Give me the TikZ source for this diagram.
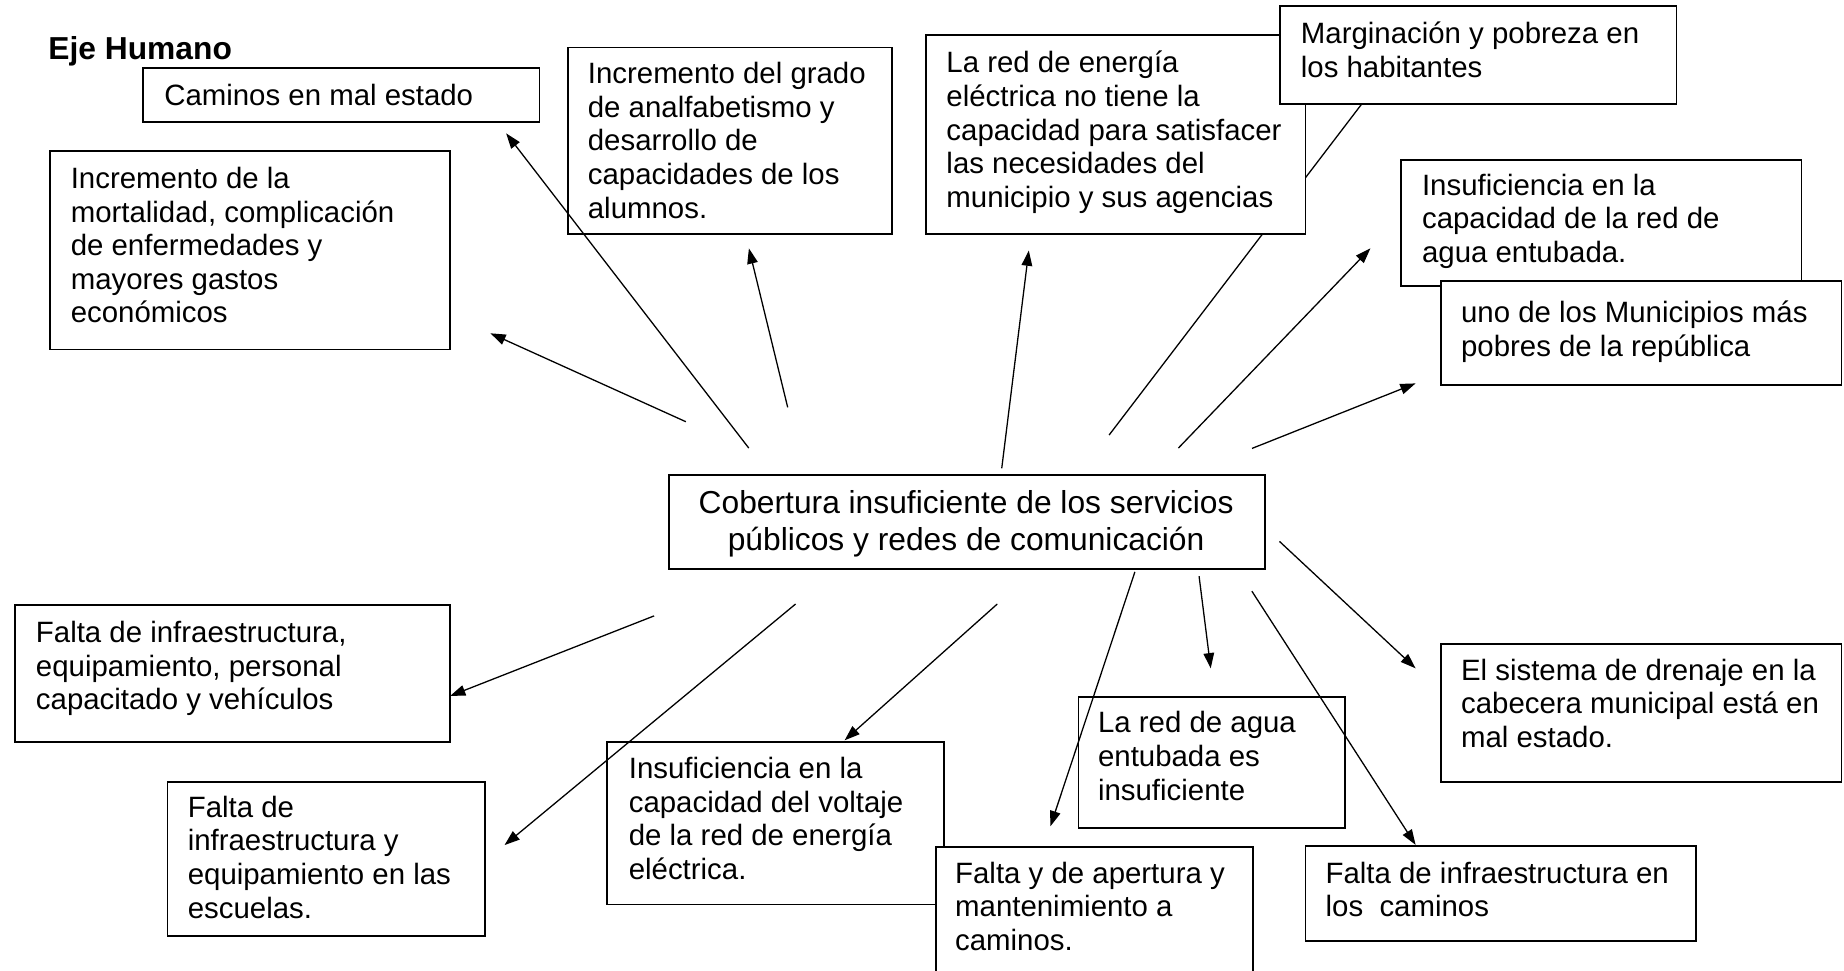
\documentclass[tikz,border=0pt]{standalone}
\usepackage{fontspec}
\setmainfont{Liberation Sans}
\usetikzlibrary{arrows.meta}
\newcommand\st{\rule{0pt}{20pt}}
\begin{document}
\begin{tikzpicture}[x=1pt,y=-1pt,
  box/.style={draw=black,line width=1.5pt,fill=white,inner sep=0pt,anchor=north west},
  txt/.style={inner sep=0pt,anchor=north west,align=left,font=\fontsize{25}{28.6}\selectfont},
  conn/.style={line width=1.1pt,-{Triangle[length=13pt,width=9pt]}},
  plain/.style={line width=1.1pt}]
\useasboundingbox (0,0) rectangle (1568,825);
% arrow end points
\coordinate (a1) at (636.7,381);   \coordinate (a2) at (430.4,113.4);
\coordinate (b1) at (583.2,358.6); \coordinate (b2) at (417,283.4);
\coordinate (c1) at (669.8,346.4); \coordinate (c2) at (636.8,211.2);
\coordinate (d1) at (851.8,398.2); \coordinate (d2) at (874.8,213);
\coordinate (e1) at (943.1,369.9); \coordinate (e2) at (1158.3,87.9);
\coordinate (f1) at (1002,381);    \coordinate (f2) at (1165.3,211.2);
\coordinate (g1) at (1064.6,381.3);\coordinate (g2) at (1203.7,326);
\coordinate (h1) at (556.2,523.7); \coordinate (h2) at (382.7,591.8);
\coordinate (i1) at (676.5,513.6); \coordinate (i2) at (429,718.6);
\coordinate (j1) at (848,513.6);   \coordinate (j2) at (718.2,629.5);
\coordinate (k1) at (965,486.3);   \coordinate (k2) at (893.2,702.6);
\coordinate (l1) at (1019.6,490);  \coordinate (l2) at (1029.5,568.3);
\coordinate (m1) at (1064.5,502.7);\coordinate (m2) at (1203.7,718.4);
\coordinate (n1) at (1088,460.4);  \coordinate (n2) at (1203.7,568.3);
% line hidden behind the energy box
\draw[plain] (e1) -- (e2);
% title
\node[inner sep=0pt,anchor=base west,font=\fontsize{27}{31}\selectfont\bfseries] (title) at (41,51) {Eje Humano};
% boxes
\node[box,minimum width=337pt,minimum height=46pt] (bcam) at (121,57) {};
\node[txt] (tcam) at (139.5,69.3) {\st Caminos en mal estado};
\node[box,minimum width=340pt,minimum height=169pt] (bmor) at (42,127.5) {};
\node[txt] (tmor) at (60,140) {\st Incremento de la\\mortalidad, complicación\\de enfermedades y\\mayores gastos\\económicos};
\node[box,minimum width=275.7pt,minimum height=158.7pt] (bgra) at (482,39.7) {};
\node[txt] (tgra) at (499.7,50.9) {\st Incremento del grado\\de analfabetismo y\\desarrollo de\\capacidades de los\\alumnos.};
\node[box,minimum width=322.7pt,minimum height=169.2pt] (bene) at (786.7,29.2) {};
\node[txt] (tene) at (804.6,41.8) {\st La red de energía\\eléctrica no tiene la\\capacidad para satisfacer\\las necesidades del\\municipio y sus agencias};
\node[box,minimum width=337.3pt,minimum height=83.6pt] (bmar) at (1087.5,4.3) {};
\node[txt] (tmar) at (1106,16.8) {\st Marginación y pobreza en\\los habitantes};
\node[box,minimum width=340.2pt,minimum height=107.1pt] (bagc) at (1190.8,135.2) {};
\node[txt] (tagc) at (1209,145.8) {\st Insuficiencia en la\\capacidad de la red de\\agua entubada.};
\node[box,minimum width=340.5pt,minimum height=88.5pt] (buno) at (1224.7,238) {};
\node[txt] (tuno) at (1242.2,254.4) {\st uno de los Municipios más\\pobres de la república};
\node[box,minimum width=507.1pt,minimum height=80.5pt] (bcen) at (568,402.9) {};
\node[inner sep=0pt,anchor=north,align=center,font=\fontsize{27}{30.8}\selectfont] (tcen) at (821.5,415.3) {\rule{0pt}{21.5pt}Cobertura insuficiente de los servicios\\públicos y redes de comunicación};
\node[box,minimum width=370pt,minimum height=116.3pt] (bper) at (12,513.6) {};
\node[txt] (tper) at (30.4,526.1) {\st Falta de infraestructura,\\equipamiento, personal\\capacitado y vehículos};
\node[box,minimum width=269.9pt,minimum height=130.9pt] (besc) at (141.6,664) {};
\node[txt] (tesc) at (159.5,674.8) {\st Falta de\\infraestructura y\\equipamiento en las\\escuelas.};
\node[box,minimum width=286.5pt,minimum height=138.3pt] (bvol) at (515.2,630.1) {};
\node[txt] (tvol) at (534.5,641.7) {\st Insuficiencia en la\\capacidad del voltaje\\de la red de energía\\eléctrica.};
\node[box,minimum width=226.2pt,minimum height=111.4pt] (bagi) at (916.4,591.8) {};
\node[txt] (tagi) at (933.5,602.9) {\st La red de agua\\entubada es\\insuficiente};
\node[box,minimum width=269.7pt,minimum height=125pt] (bape) at (794.9,719.4) {};
\node[txt] (tape) at (812,730.9) {\st Falta y de apertura y\\mantenimiento a\\caminos.};
\node[box,minimum width=340.5pt,minimum height=117.3pt] (bdre) at (1224.7,546.7) {};
\node[txt] (tdre) at (1242.2,558.3) {\st El sistema de drenaje en la\\cabecera municipal está en\\mal estado.};
\node[box,minimum width=331.8pt,minimum height=81.3pt] (bcin) at (1109.4,718.4) {};
\node[txt] (tcin) at (1127,730.9) {\st Falta de infraestructura en\\los~ caminos};
% arrows
\draw[conn] (a1) -- (a2);
\draw[conn] (b1) -- (b2);
\draw[conn] (c1) -- (c2);
\draw[conn] (d1) -- (d2);
\draw[conn] (f1) -- (f2);
\draw[conn] (g1) -- (g2);
\draw[conn] (h1) -- (h2);
\draw[conn] (i1) -- (i2);
\draw[conn] (j1) -- (j2);
\draw[conn] (k1) -- (k2);
\draw[conn] (l1) -- (l2);
\draw[conn] (m1) -- (m2);
\draw[conn] (n1) -- (n2);
\end{tikzpicture}
\end{document}
